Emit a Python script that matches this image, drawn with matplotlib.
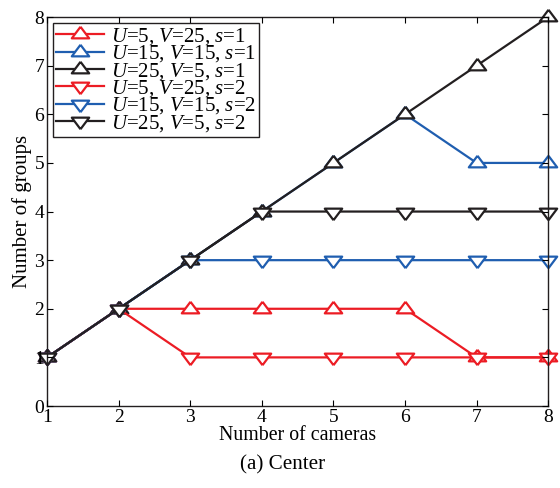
import matplotlib
matplotlib.use("Agg")
import matplotlib.pyplot as plt

plt.rcParams['font.family'] = ['Liberation Serif']
plt.rcParams['mathtext.fontset'] = 'custom'
plt.rcParams['mathtext.rm'] = 'Liberation Serif'
plt.rcParams['mathtext.it'] = 'Liberation Serif:italic'

cameras = [1, 2, 3, 4, 5, 6, 7, 8]
u5_s1 = [1, 2, 2, 2, 2, 2, 1, 1]
u15_s1 = [1, 2, 3, 4, 5, 6, 5, 5]
u25_s1 = [1, 2, 3, 4, 5, 6, 7, 8]
u5_s2 = [1, 2, 1, 1, 1, 1, 1, 1]
u15_s2 = [1, 2, 3, 3, 3, 3, 3, 3]
u25_s2 = [1, 2, 3, 4, 4, 4, 4, 4]
labels = [r'$U$=5, $V$=25, $s$=1', r'$U$=15, $V$=15, $s$=1', r'$U$=25, $V$=5, $s$=1',
          r'$U$=5, $V$=25, $s$=2', r'$U$=15, $V$=15, $s$=2', r'$U$=25, $V$=5, $s$=2']

red = '#ec1c24'
blue = '#1f5eb0'
black = '#231f20'

# MATLAB-like flat triangles centred on their centroid
tri_up = [(0, 0.444), (-0.5, -0.222), (0.5, -0.222), (0, 0.444)]
tri_dn = [(0, -0.444), (-0.5, 0.222), (0.5, 0.222), (0, -0.444)]

fig = plt.figure(figsize=(5.6, 4.88), dpi=100)
ax = fig.add_axes([0.084, 0.168, 0.895, 0.797])

series = [(u5_s1, red, tri_up), (u15_s1, blue, tri_up), (u25_s1, black, tri_up),
          (u5_s2, red, tri_dn), (u15_s2, blue, tri_dn), (u25_s2, black, tri_dn)]
handles = []
for (vals, c, m), lab in zip(series, labels):
    h, = ax.plot(cameras, vals, color=c, marker=m, mfc='white', mec=c, ms=12.5, mew=1.6,
                 lw=1.6, label=lab, clip_on=False, zorder=2)
    handles.append(h)

ax.set_xlim(1, 8)
ax.set_ylim(0, 8)
ax.set_xticks(cameras)
ax.set_yticks(range(0, 9))
ax.set_axisbelow(False)
ax.tick_params(direction='in', labelsize=14, top=True, right=True, length=4, pad=2)
for s in ax.spines.values():
    s.set_linewidth(1.0)
    s.set_color('#231f20')
ax.set_xlabel('Number of cameras', fontsize=14.3, labelpad=0)
ax.set_ylabel('Number of groups', fontsize=15, labelpad=2)

leg = ax.legend(handles=handles, loc='upper left', fontsize=15, frameon=True, fancybox=False,
                edgecolor=black, framealpha=1, borderpad=0.15, labelspacing=-0.17,
                handlelength=2.3, handletextpad=0.35, borderaxespad=0.28)
leg.get_frame().set_linewidth(1.0)
leg.set_zorder(5)

fig.text(0.505, 0.047, '(a) Center', ha='center', va='center', fontsize=15.2)

fig.savefig('out.png', dpi=100)
